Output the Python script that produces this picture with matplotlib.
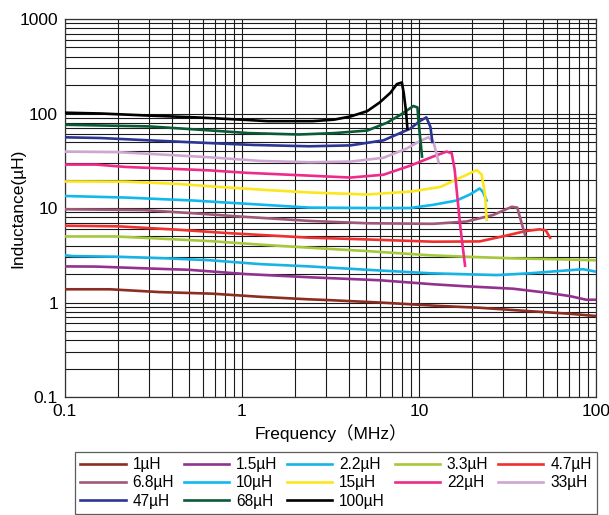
import matplotlib
matplotlib.use("Agg")
import matplotlib.pyplot as plt

plt.rcParams["font.family"] = ["Liberation Sans", "Noto Sans CJK JP", "DejaVu Sans"]

# inductance vs frequency
f_1 = [0.1, 0.18, 0.34, 0.68, 1.26, 2.4, 3.1, 6, 13, 22, 42, 71, 100]
L_1 = [1.38, 1.38, 1.29, 1.24, 1.15, 1.08, 1.06, 1.0, 0.92, 0.88, 0.81, 0.76, 0.72]

f_1p5 = [0.1, 0.15, 0.28, 0.5, 1.05, 2.4, 6, 12, 17.8, 34, 52.6, 71, 88, 100]
L_1p5 = [2.41, 2.4, 2.3, 2.22, 2.0, 1.85, 1.72, 1.56, 1.49, 1.4, 1.27, 1.17, 1.07, 1.07]

f_2p2 = [0.1, 0.11, 0.2, 0.38, 0.66, 1.26, 2.4, 5.1, 11.5, 27.5, 42.4, 65, 84.5, 96, 100]
L_2p2 = [3.16, 3.1, 3.05, 2.93, 2.8, 2.55, 2.41, 2.22, 2.04, 1.95, 2.04, 2.17, 2.25, 2.15, 2.12]

f_3p3 = [0.1, 0.19, 0.34, 0.68, 1.26, 2.4, 5.1, 11.5, 17.8, 34, 60, 100]
L_3p3 = [5.0, 5.0, 4.75, 4.45, 4.1, 3.8, 3.5, 3.16, 3.06, 2.93, 2.87, 2.8]

f_4p7 = [0.1, 0.2, 0.43, 0.8, 2.4, 5.1, 12, 22, 31, 40, 48, 52, 55]
L_4p7 = [6.5, 6.4, 5.9, 5.45, 4.85, 4.65, 4.4, 4.43, 5.1, 5.7, 5.95, 5.8, 4.85]

f_6p8 = [0.1, 0.28, 0.53, 1.0, 2.4, 5.1, 12, 18.6, 26.3, 33.4, 35.9, 38, 39.7]
L_6p8 = [9.7, 9.5, 8.8, 8.1, 7.3, 6.9, 6.8, 7.2, 8.45, 10.3, 10.1, 6.9, 5.2]

f_10 = [0.1, 0.22, 0.53, 1.05, 2.4, 5.1, 8.9, 12, 16.3, 19.4, 22, 22.9, 24.1]
L_10 = [13.4, 12.9, 12, 11.1, 10.1, 10, 10, 10.8, 12, 13.9, 16.1, 14.9, 12]

f_15 = [0.1, 0.22, 0.43, 0.75, 1.38, 2.4, 5.1, 8.9, 13.2, 17.1, 21.2, 22.6, 23.6, 24.1]
L_15 = [19.1, 19, 18, 16.7, 15.5, 14.6, 13.9, 14.9, 16.7, 20.9, 25.2, 22.5, 13.9, 7.5]

f_22 = [0.1, 0.15, 0.22, 0.4, 0.66, 1.05, 2.4, 4.1, 6.3, 8.9, 12, 14.3, 15.3, 15.9, 17.1, 18.2]
L_22 = [28.8, 28.8, 27.2, 26, 25, 23.6, 22, 21, 22.5, 28, 35, 39.5, 38, 25.5, 6.4, 2.45]

f_33 = [0.1, 0.2, 0.38, 0.66, 1.26, 2.4, 4.1, 6.3, 8.5, 10.1, 11.3, 12.1, 12.9]
L_33 = [39.5, 39, 36.5, 34.4, 31.5, 30.5, 31, 34, 42.5, 51, 56, 49.5, 30.5]

f_47 = [0.1, 0.16, 0.3, 0.6, 1.15, 2.4, 4.1, 6.3, 8.9, 10.1, 11.0, 11.6, 11.9]
L_47 = [56, 55, 52, 49, 46.5, 45, 46, 52, 69, 83, 91, 72, 50]

f_68 = [0.1, 0.3, 0.6, 1.1, 2.1, 3.3, 5.1, 6.6, 7.8, 9.3, 9.8, 9.9, 10.4]
L_68 = [76, 73, 67, 62, 60, 62, 66, 80, 96, 120, 116, 89, 35]

f_100 = [0.1, 0.16, 0.3, 0.55, 1.0, 1.4, 2.5, 3.3, 4.1, 5.1, 6.0, 6.9, 7.5, 8.0, 8.2, 8.45, 8.6]
L_100 = [102, 100, 95, 91, 86, 83, 83, 86, 93, 106, 131, 166, 205, 213, 164, 104, 69]

series = [
    ("1µH", f_1, L_1, "#8c2d22"),
    ("1.5µH", f_1p5, L_1p5, "#93318f"),
    ("2.2µH", f_2p2, L_2p2, "#16b4e6"),
    ("3.3µH", f_3p3, L_3p3, "#a6c93b"),
    ("4.7µH", f_4p7, L_4p7, "#f0302e"),
    ("6.8µH", f_6p8, L_6p8, "#a0587a"),
    ("10µH", f_10, L_10, "#10b8ee"),
    ("15µH", f_15, L_15, "#fce61e"),
    ("22µH", f_22, L_22, "#ee2a8b"),
    ("33µH", f_33, L_33, "#cfa6d1"),
    ("47µH", f_47, L_47, "#2d3594"),
    ("68µH", f_68, L_68, "#0b5a36"),
    ("100µH", f_100, L_100, "#000000"),
]

fig = plt.figure(figsize=(6.09, 5.15), dpi=100)
ax = fig.add_axes([0.1067, 0.2291, 0.872, 0.734])

lines = {}
for label, f, L, color in series:
    (ln,) = ax.plot(f, L, color=color, lw=1.9, label=label, zorder=3)
    lines[label] = ln

ax.set_xscale("log")
ax.set_yscale("log")
ax.set_xlim(0.1, 100)
ax.set_ylim(0.1, 1000)
ax.set_xticks([0.1, 1, 10, 100])
ax.set_xticklabels(["0.1", "1", "10", "100"])
ax.set_yticks([0.1, 1, 10, 100, 1000])
ax.set_yticklabels(["0.1", "1", "10", "100", "1000"])

ax.grid(True, which="both", color="#1a1a1a", lw=0.8, zorder=1)
ax.tick_params(which="both", length=0, labelsize=12.5, pad=5)
for sp in ax.spines.values():
    sp.set_color("#333333")
    sp.set_linewidth(0.9)

ax.set_xlabel("Frequency（MHz）", fontsize=12.5, labelpad=4)
ax.set_ylabel("Inductance(µH)", fontsize=12.5)
ax.yaxis.set_label_coords(-0.074, 0.5)

# legend filled row by row: reorder for matplotlib's column filling
order = ["1µH", "6.8µH", "47µH",
         "1.5µH", "10µH", "68µH",
         "2.2µH", "15µH", "100µH",
         "3.3µH", "22µH",
         "4.7µH", "33µH"]
leg = fig.legend(
    [lines[k] for k in order], order,
    ncol=5, loc="lower left",
    bbox_to_anchor=(75 / 609, 1 / 515, 522 / 609, 62 / 515),
    mode="expand", fontsize=11.2, handlelength=2.9, handletextpad=0.45,
    labelspacing=0.2, borderaxespad=0.0, borderpad=0.35,
    columnspacing=0.6, fancybox=False, frameon=True,
)
leg.get_frame().set_edgecolor("#333333")
leg.get_frame().set_linewidth(0.9)

fig.savefig("out.png", dpi=100)
